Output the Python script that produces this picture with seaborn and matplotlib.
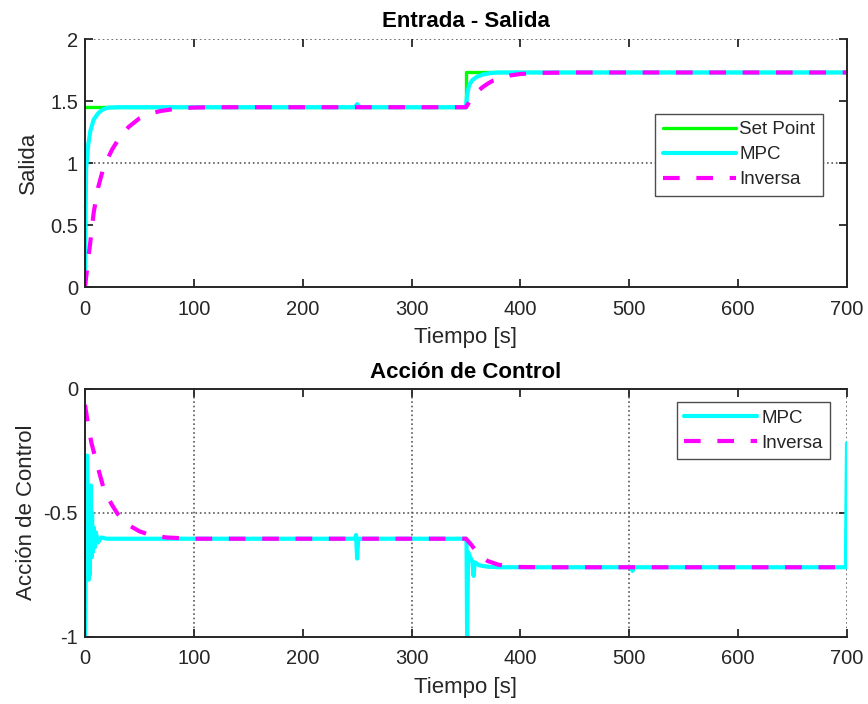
import numpy as np
import pandas as pd
import seaborn as sns
import matplotlib
matplotlib.use("Agg")
import matplotlib.pyplot as plt

# Top plot: Entrada - Salida
t_sp = [0, 350, 350, 700]
y_sp = [1.45, 1.45, 1.73, 1.73]

t_mpc_out = [0, 0.5, 1, 2, 3, 5, 8, 12, 16, 21, 30, 248, 250, 251, 253,
             350, 351, 353, 356, 360, 365, 372, 380, 700]
y_mpc_out = [0.0, 0.5, 0.95, 1.05, 1.15, 1.26, 1.35, 1.40, 1.43, 1.446, 1.45, 1.45, 1.475, 1.46, 1.45,
             1.45, 1.55, 1.63, 1.67, 1.695, 1.712, 1.725, 1.73, 1.73]

t_inv_out = [0, 2, 5, 8, 12, 16, 20, 25, 30, 40, 50, 60, 70, 85, 100, 120,
             350, 355, 360, 365, 370, 375, 380, 390, 400, 420, 450, 700]
y_inv_out = [0.0, 0.15, 0.37, 0.6, 0.8, 0.93, 1.02, 1.11, 1.18, 1.29, 1.36, 1.40, 1.42, 1.44, 1.447, 1.45,
             1.45, 1.52, 1.57, 1.61, 1.64, 1.665, 1.68, 1.705, 1.718, 1.727, 1.73, 1.73]

# Bottom plot: Accion de Control
t_mpc_u = [0, 0.5, 1, 1.5, 2, 2.5, 3, 3.5, 4, 4.5, 5, 5.5, 6, 6.5, 7, 8, 9, 10, 12, 15, 20, 30,
           248, 249, 250, 251, 252,
           350, 350.5, 351, 352, 354, 356, 357, 358, 362, 370, 380,
           502, 503, 504, 699, 700]
y_mpc_u = [-1.0, -0.85, -0.5, -0.3, -0.27, -0.45, -0.7, -0.77, -0.55, -0.75, -0.45, -0.39, -0.68, -0.5, -0.66,
           -0.56, -0.64, -0.58, -0.62, -0.60, -0.605, -0.605,
           -0.605, -0.59, -0.685, -0.605, -0.605,
           -0.605, -0.62, -1.0, -0.66, -0.68, -0.70, -0.755, -0.70, -0.712, -0.718, -0.72,
           -0.72, -0.735, -0.72, -0.72, -0.22]

t_inv_u = [0, 3, 6, 9, 12, 17, 20, 25, 30, 40, 50, 60, 75, 100,
           350, 355, 360, 365, 370, 380, 390, 400, 420, 700]
y_inv_u = [-0.065, -0.15, -0.22, -0.27, -0.32, -0.40, -0.43, -0.47, -0.505, -0.55, -0.575, -0.59, -0.60, -0.605,
           -0.605, -0.63, -0.66, -0.68, -0.695, -0.71, -0.716, -0.719, -0.72, -0.72]

GREEN = "#00ff00"
CYAN = "#00ffff"
MAGENTA = "#ff00ff"
TXT = "#262626"

sns.set_style("ticks")
plt.rcParams["font.family"] = ["Liberation Sans", "DejaVu Sans"]
plt.rcParams["axes.edgecolor"] = TXT
plt.rcParams["xtick.color"] = TXT
plt.rcParams["ytick.color"] = TXT


def styleAx(ax, xlim, ylim, yticks):
    ax.set_xlim(*xlim)
    ax.set_ylim(*ylim)
    ax.set_xticks(range(0, 701, 100))
    ax.set_yticks(yticks)
    ax.set_yticklabels([f"{v:g}" for v in yticks])
    ax.tick_params(direction="in", top=True, right=True, length=6, width=1.3,
                   labelsize=14.5, labelcolor=TXT)
    ax.tick_params(axis="x", pad=9)
    ax.tick_params(axis="y", pad=5)
    for s in ax.spines.values():
        s.set_linewidth(1.4)
        s.set_color(TXT)
    ax.set_xlabel("Tiempo [s]", fontsize=16, color=TXT, labelpad=6)


def gridLine(ax, kind, v):
    kw = dict(color="0.35", linestyle=":", linewidth=1.2, zorder=0.5)
    if kind == "h":
        ax.axhline(v, **kw)
    else:
        ax.axvline(v, **kw)


fig = plt.figure(figsize=(8.68, 7.04), dpi=100)
ax1 = fig.add_axes([0.0979, 0.5923, 0.8779, 0.3523])
ax2 = fig.add_axes([0.0979, 0.0956, 0.8779, 0.3523])

legKw = dict(borderaxespad=0, fontsize=13.5, handlelength=3.9, handletextpad=0.2,
             labelspacing=0.42, fancybox=False, framealpha=1, edgecolor="0.3",
             borderpad=0.4)

# ---- top
sns.lineplot(x=t_sp, y=y_sp, ax=ax1, color=GREEN, linewidth=2.4, sort=False,
             estimator=None, label="Set Point")
sns.lineplot(x=t_mpc_out, y=y_mpc_out, ax=ax1, color=CYAN, linewidth=3.0, sort=False,
             estimator=None, label="MPC")
sns.lineplot(x=t_inv_out, y=y_inv_out, ax=ax1, color=MAGENTA, linewidth=3.0, sort=False,
             estimator=None, label="Inversa", linestyle=(0, (4, 4)))
styleAx(ax1, (0, 700), (0, 2), [0, 0.5, 1, 1.5, 2])
ax1.spines["top"].set_visible(False)
gridLine(ax1, "h", 1)
gridLine(ax1, "h", 2)
ax1.set_ylabel("Salida", fontsize=16, color=TXT)
ax1.yaxis.set_label_coords(-0.060, 0.5)
ax1.set_title("Entrada - Salida", fontsize=16, fontweight="bold", color="black", pad=9)
ax1.legend(loc="upper right", bbox_to_anchor=(0.9685, 0.699), **legKw)

# ---- bottom
sns.lineplot(x=t_mpc_u, y=y_mpc_u, ax=ax2, color=CYAN, linewidth=3.0, sort=False,
             estimator=None, label="MPC")
sns.lineplot(x=t_inv_u, y=y_inv_u, ax=ax2, color=MAGENTA, linewidth=3.0, sort=False,
             estimator=None, label="Inversa", linestyle=(0, (4, 4)))
styleAx(ax2, (0, 700), (-1, 0), [-1, -0.5, 0])
ax2.spines["right"].set_visible(False)
for v in [100, 300, 500, 700]:
    gridLine(ax2, "v", v)
gridLine(ax2, "h", -0.5)
ax2.set_ylabel("Acción de Control", fontsize=16, color=TXT)
ax2.yaxis.set_label_coords(-0.063, 0.5)
ax2.set_title("Acción de Control", fontsize=16, fontweight="bold", color="black", pad=8)
ax2.legend(loc="upper right", bbox_to_anchor=(0.978, 0.945), **legKw)

fig.savefig("out.png", dpi=100, facecolor="white")
